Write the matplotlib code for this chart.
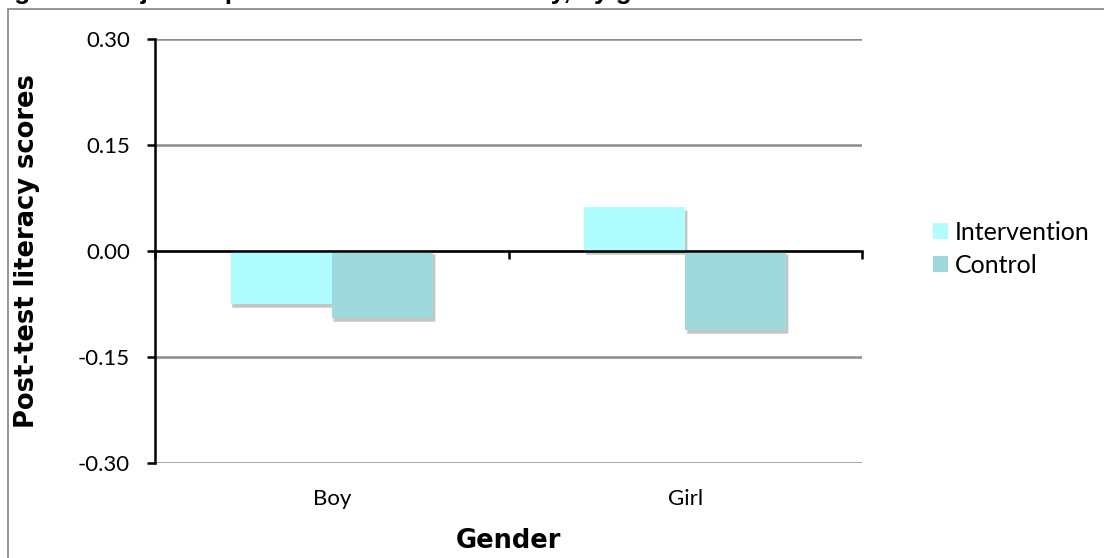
import numpy as np
import matplotlib
matplotlib.use('Agg')
import matplotlib.pyplot as plt
import matplotlib.patheffects as pe
from matplotlib.patches import Rectangle

# adjusted post-test literacy means
generos = ['Boy', 'Girl']
series = ['Intervention', 'Control']
intervencion = [-0.075, 0.062]
control = [-0.095, -0.112]
yticks = [-0.30, -0.15, 0.00, 0.15, 0.30]

colores = ['#AFFDFE', '#9ED9DB']
gris = '#8C8C8C'

fig = plt.figure(figsize=(11.04, 5.58), dpi=100)
ax = fig.add_axes([155 / 1104, 1 - 463 / 558, 707 / 1104, 424 / 558])

# outer chart border
fig.patches.append(Rectangle((8 / 1104, -0.1), 1.2, 1.1 - 9 / 558,
                             transform=fig.transFigure, fill=False,
                             edgecolor=gris, lw=1.3, zorder=0))

# title sits above the chart frame, only the bottom peeks in
fig.text(-9 / 1104, 1 + 0.5 / 558, 'Figure 3. Adjusted post-test means for literacy, by gender',
         fontfamily='Liberation Sans', fontweight='bold', fontsize=18.7,
         ha='left', va='baseline')

x = np.arange(len(generos))
ancho = 0.286
sombra = [pe.SimplePatchShadow(offset=(1.2, -2.8), shadow_rgbFace='#888888', alpha=0.35),
          pe.SimplePatchShadow(offset=(2.0, -1.8), shadow_rgbFace='#888888', alpha=0.2),
          pe.Normal()]
for i, (vals, nombre) in enumerate(zip([intervencion, control], series)):
    barras = ax.bar(x + (i - 0.5) * ancho, vals, ancho, color=colores[i],
                    label=nombre, zorder=2)
    for b in barras:
        b.set_path_effects(sombra)

ax.set_xlim(-0.5, 1.5)
ax.set_ylim(-0.30, 0.30)
ax.set_yticks(yticks)
ax.set_yticklabels([f'{v:.2f}' for v in yticks])
ax.set_xticks(x)
ax.set_xticklabels(generos)

ax.set_axisbelow(True)
ax.yaxis.grid(True, color=gris, lw=1.8)
for lado in ['top', 'right', 'bottom']:
    ax.spines[lado].set_visible(False)
ax.spines['left'].set_color('black')
ax.spines['left'].set_linewidth(1.8)
ax.spines['left'].set_zorder(4)

ax.tick_params(axis='y', direction='out', length=6, width=1.8, pad=12,
               labelsize=16, color='black')
ax.tick_params(axis='x', length=0, pad=19, labelsize=16)
for t in ax.get_xticklabels() + ax.get_yticklabels():
    t.set_fontfamily('Lato')

# horizontal axis crosses at zero, with ticks between categories
eje0 = ax.secondary_xaxis(0.5)
eje0.set_alignment('bottom')
eje0.set_xticks([-0.5, 0.5, 1.5])
eje0.tick_params(direction='out', length=6, width=1.8, labelbottom=False, color='black')
eje0.spines['bottom'].set_color('black')
eje0.spines['bottom'].set_linewidth(1.8)
eje0.set_zorder(5)

ax.set_ylabel('Post-test literacy scores', fontfamily='DejaVu Sans',
              fontweight='bold', fontsize=18.5)
ax.yaxis.set_label_coords(-0.162, 0.5)
ax.set_xlabel('Gender', fontfamily='DejaVu Sans', fontweight='bold', fontsize=18.5)
ax.xaxis.label.set_va('baseline')
ax.xaxis.set_label_coords(0.5, -0.2005)

ley = ax.legend(loc='center left', bbox_to_anchor=(1.1, 0.505), frameon=False,
                prop={'family': 'Lato', 'size': 18}, handlelength=0.6,
                handleheight=0.6, handletextpad=0.3, labelspacing=0.42,
                borderpad=0, borderaxespad=0)
for h in ley.legend_handles:
    h.set_path_effects([])

fig.savefig('out.png', dpi=100)
